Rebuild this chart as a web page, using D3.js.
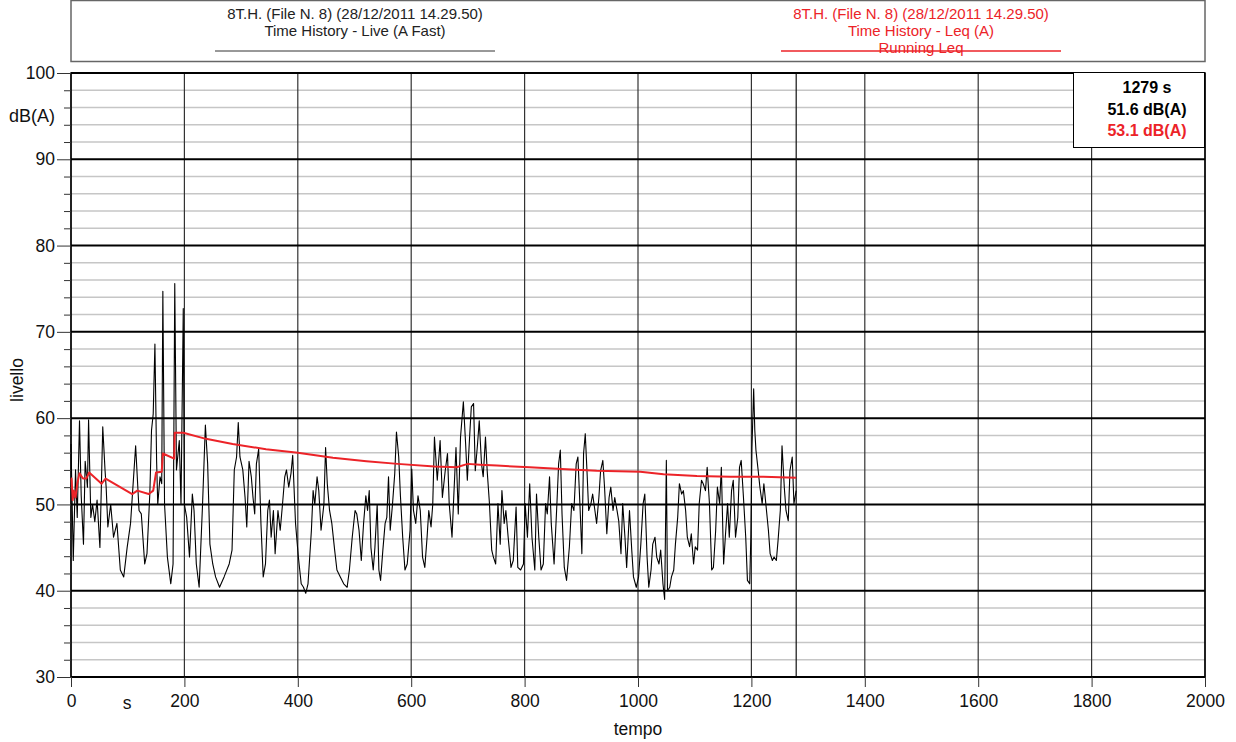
<!DOCTYPE html>
<html>
<head>
<meta charset="utf-8">
<script src="https://cdn.jsdelivr.net/npm/d3@7"></script>
<style>
  body { margin: 0; background: #fff; }
  svg { display: block; font-family: "Liberation Sans", Arial, Helvetica, sans-serif; }
</style>
</head>
<body>
<svg id="chart" width="1236" height="742"></svg>
<script>
// --- Daten: Time History - Live (A Fast) ---
const liveTime = [0,4,8,11,15,18,22,25,29,31,35,38,42,46,51,56,60,62,65,70,75,81,87,93,99,105,114,120,124,130,134,139,142,145,148,151,153,157,160,162,165,170,176,180,183,186,191,194,198,200,204,209,214,217,221,226,232,237,241,245,250,255,262,270,279,284,288,292,295,298,303,307,310,314,318,321,324,327,331,335,339,343,347,350,353,357,360,365,369,373,377,380,384,388,391,396,401,406,410,414,418,424,427,430,434,437,441,446,449,452,456,460,465,469,475,481,487,491,496,501,504,508,512,516,520,523,526,529,533,536,540,543,546,550,554,557,560,563,567,571,574,578,581,585,589,593,598,601,604,608,612,616,620,624,628,631,635,638,
  641,646,651,655,660,664,667,672,675,679,683,687,692,696,699,703,706,710,713,717,720,724,727,731,734,738,742,745,749,753,757,760,764,767,771,776,780,785,788,793,798,801,805,809,813,818,821,825,829,833,837,840,844,847,852,857,860,863,866,870,874,879,883,887,891,894,898,901,904,907,910,913,917,920,924,927,931,934,938,941,945,949,952,956,959,963,966,970,973,977,980,985,989,992,997,1001,1005,1009,1012,1016,1019,1023,1026,1030,1033,1037,1040,1044,1047,1050,1052,1056,1059,1063,1066,1070,1073,1077,1080,1084,1087,1091,1094,1098,1101,1105,1108,1112,1115,1119,1122,1126,1130,1133,1137,1140,1144,1147,1151,1154,1158,1161,1165,1168,1172,1176,1179,1182,1186,1190,1193,1197,1199,1201,1204,1206,1208,1212,1215,1219,1222,1226,1230,1233,1237,1240,1244,1247,1251,1254,1258,1261,1265,1268,1272,1275,1279];
const liveLevel = [57,43.5,54,48.5,59.7,51,45.4,55,52,59.8,48.5,50,48,50.5,45,59,54,52,47.4,50,46.2,47.8,42.4,41.6,45,47.8,56.8,49.3,48.9,43.1,44.3,51.2,58.6,60.5,68.6,55,50,53.2,52.4,74.7,50,43.9,40.8,43.1,75.6,54,57.4,50,72.7,50,48.5,43.9,51.2,49.3,43.1,40.4,50,59.2,54.7,45.4,43.1,41.6,40.4,41.6,43.1,44.7,54,55.5,59.5,55.5,54,50.8,47.4,55,53.2,50.8,48.9,54.7,56.4,47.8,41.6,43.1,49.3,50.5,46.2,49.3,44.3,49.3,47,50,53.2,54,52,53.6,55.7,47.8,43.9,40.8,40.4,39.7,40.8,47,51.6,50,53.2,51.6,47,50,56.6,52.4,49.3,47.8,44.7,42.4,41.6,40.8,40.4,42.4,46.2,49.3,48.9,47,43.5,47.8,51,49.3,51.6,45,42.4,45,50,42.4,41.2,44.7,47.8,48.5,53.2,47,50,53.6,58.4,55.5,51,46.2,42.4,43.1,47,54.1,49.3,47.8,51,49.3,43.9,42.7,46.2,49.3,47.4,50,
  57.8,52.8,57.4,50.8,53.9,55.9,50.1,46.2,50.8,56.6,48.9,57.8,61.9,57,52.8,57.8,61.3,61.7,53.9,57,59.7,54.7,53.2,57.8,53.9,50.1,44.7,43.9,43.1,50.1,45.4,51.6,47.8,49.3,46.2,42.7,43.5,49.7,42.7,42.4,43.1,50.1,46.2,52.4,46.2,42.4,51.2,46.2,42.4,43.1,50.1,48.9,53.2,47.8,43.1,50.1,54.7,56.3,48.9,42.7,41.2,45.1,50.1,49.3,54.7,55.5,49.3,44.3,55.9,58.2,53.9,49.3,50.1,51.2,49.3,47.8,50.8,53.9,55.1,52,46.6,50.8,52,49.3,50.8,49.3,48.1,44.3,50.1,46.2,42.7,49.3,44.7,41.6,40.4,41.6,45.4,50.1,51.2,43.9,40.4,42.4,45.4,46.2,43.9,43.1,44.7,40.8,39,55.1,40,40.4,41.6,42.4,45.4,48.5,52.4,51.2,51.6,49.3,46.2,45.1,46.6,43.1,45.1,44.7,50.1,52.8,52.4,51.6,54.3,50.1,42.4,42.7,47,52,50.1,54.3,43.1,46.2,50.1,46.2,51.6,52.8,46.2,48.5,54.3,55.1,50.8,46.2,41.2,40.8,46.2,56.6,63.4,58.6,56.3,53.9,52,50.1,52.4,49.7,47,44.3,43.5,43.9,43.5,45.8,49.3,56.8,52,49.3,48.1,53.9,55.5,50.1,51.6];

// --- Daten: Running Leq (A) ---
const leqTime = [0,1,3,5,8,11,15,21,27,32,54,61,108,117,137,145,150,160,162,182,183,198,238,285,344,400,462,521,576,641,680,700,721,751,809,865,927,1004,1045,1104,1163,1221,1279];
const leqLevel = [53.0,53.0,50.5,51.6,50.8,52.4,53.6,53.0,53.0,53.7,52.4,53.0,51.2,51.6,51.2,51.6,53.7,53.8,55.9,55.3,58.3,58.3,57.6,57.0,56.4,56.0,55.4,55.0,54.7,54.4,54.3,54.7,54.6,54.5,54.3,54.1,53.9,53.8,53.5,53.3,53.2,53.2,53.1];

// --- Achsen ---
const xTicks = [0,200,400,600,800,1000,1200,1400,1600,1800,2000];
const yTicks = [30,40,50,60,70,80,90,100];
const yMinorTicks = d3.range(30, 101, 2).filter(v => v % 10 !== 0);
const endTime = 1279;

// --- Legende / Ergebnisbox ---
const liveLegend = ["8T.H. (File N. 8) (28/12/2011 14.29.50)", "Time History - Live (A Fast)"];
const leqLegend = ["8T.H. (File N. 8) (28/12/2011 14.29.50)", "Time History - Leq (A)", "Running Leq"];
const resultLines = ["1279 s", "51.6 dB(A)", "53.1 dB(A)"];

const RED = "#ec2328";
const FONT = "'Liberation Sans', Arial, sans-serif";

const svg = d3.select("#chart");
const x = d3.scaleLinear().domain([0, 2000]).range([71, 1205]);
const y = d3.scaleLinear().domain([30, 100]).range([677, 73]);

// Legendenrahmen
svg.append("rect")
  .attr("x", 71).attr("y", 0.5).attr("width", 1134).attr("height", 61)
  .attr("fill", "#fff").attr("stroke", "#666").attr("stroke-width", 1.5);

const leg = svg.append("g").attr("font-size", 15).attr("text-anchor", "middle");
liveLegend.forEach((t, i) => {
  leg.append("text").attr("x", 355).attr("y", 19 + i * 17).attr("fill", "#222").text(t);
});
leg.append("line").attr("x1", 215).attr("x2", 495).attr("y1", 51).attr("y2", 51)
  .attr("stroke", "#333").attr("stroke-width", 1);
leqLegend.forEach((t, i) => {
  leg.append("text").attr("x", 921).attr("y", 19 + i * 17).attr("fill", RED).text(t);
});
leg.append("line").attr("x1", 781).attr("x2", 1061).attr("y1", 51).attr("y2", 51)
  .attr("stroke", RED).attr("stroke-width", 1.5);

// Gitter: Nebenlinien (2 dB)
svg.append("g").selectAll("line").data(yMinorTicks).join("line")
  .attr("x1", x(0)).attr("x2", x(2000))
  .attr("y1", d => y(d)).attr("y2", d => y(d))
  .attr("stroke", "#c6c6c6").attr("stroke-width", 1.5);

// Gitter: vertikale Linien
svg.append("g").selectAll("line").data(xTicks).join("line")
  .attr("x1", d => x(d)).attr("x2", d => x(d))
  .attr("y1", y(100)).attr("y2", y(30))
  .attr("stroke", "#333").attr("stroke-width", 1.2);

// Gitter: Hauptlinien (10 dB)
svg.append("g").selectAll("line").data(yTicks).join("line")
  .attr("x1", x(0)).attr("x2", x(2000))
  .attr("y1", d => y(d)).attr("y2", d => y(d))
  .attr("stroke", "#000").attr("stroke-width", 2);

// Ende der Messung
svg.append("line")
  .attr("x1", x(endTime)).attr("x2", x(endTime))
  .attr("y1", y(100)).attr("y2", y(30))
  .attr("stroke", "#111").attr("stroke-width", 1.2);

// Rahmen
svg.append("rect")
  .attr("x", x(0)).attr("y", y(100)).attr("width", x(2000) - x(0)).attr("height", y(30) - y(100))
  .attr("fill", "none").attr("stroke", "#000").attr("stroke-width", 1.5);

// Kurven
const line = d3.line().x(d => x(d[0])).y(d => y(d[1]));
svg.append("path")
  .datum(d3.zip(liveTime, liveLevel))
  .attr("d", line)
  .attr("fill", "none").attr("stroke", "#000").attr("stroke-width", 1.1)
  .attr("stroke-linejoin", "round");
svg.append("path")
  .datum(d3.zip(leqTime, leqLevel))
  .attr("d", line)
  .attr("fill", "none").attr("stroke", RED).attr("stroke-width", 2)
  .attr("stroke-linejoin", "round");

// Y-Achse
const yAxisMinor = svg.append("g").attr("transform", `translate(${x(0)},0)`)
  .call(d3.axisLeft(y).tickValues(yMinorTicks).tickSize(7).tickFormat(""));
const yAxis = svg.append("g").attr("transform", `translate(${x(0)},0)`)
  .call(d3.axisLeft(y).tickValues(yTicks).tickSize(14).tickPadding(2).tickFormat(d3.format("d")));
[yAxisMinor, yAxis].forEach(a => {
  a.select(".domain").remove();
  a.selectAll("line").attr("stroke", "#333").attr("stroke-width", 1);
});
yAxis.selectAll("text").attr("font-size", 17.5).attr("fill", "#111").attr("font-family", FONT);

// X-Achse
const xAxis = svg.append("g").attr("transform", `translate(0,${y(30)})`)
  .call(d3.axisBottom(x).tickValues(xTicks).tickSize(10).tickPadding(8).tickFormat(d3.format("d")));
xAxis.select(".domain").remove();
xAxis.selectAll("line").attr("stroke", "#333");
xAxis.selectAll("text").attr("font-size", 17.5).attr("fill", "#111").attr("font-family", FONT);

// Achsentitel
svg.append("text").attr("x", 55).attr("y", 122).attr("text-anchor", "end")
  .attr("font-size", 18).attr("fill", "#111").text("dB(A)");
svg.append("text").attr("transform", "translate(23,380) rotate(-90)").attr("text-anchor", "middle")
  .attr("font-size", 17.5).attr("fill", "#111").text("livello");
svg.append("text").attr("x", 638).attr("y", 735).attr("text-anchor", "middle")
  .attr("font-size", 17.5).attr("fill", "#111").text("tempo");
svg.append("text").attr("x", 127).attr("y", 709).attr("text-anchor", "middle")
  .attr("font-size", 17.5).attr("fill", "#111").text("s");

// Ergebnisbox oben rechts
svg.append("rect")
  .attr("x", 1073.5).attr("y", 72.5).attr("width", 131).attr("height", 75)
  .attr("fill", "#fff").attr("stroke", "#000").attr("stroke-width", 1);
const res = svg.append("g").attr("font-size", 16).attr("font-weight", "bold").attr("text-anchor", "middle");
resultLines.forEach((t, i) => {
  res.append("text").attr("x", 1147).attr("y", 93 + i * 21.5)
    .attr("fill", i === 2 ? RED : "#000").text(t);
});
</script>
</body>
</html>
